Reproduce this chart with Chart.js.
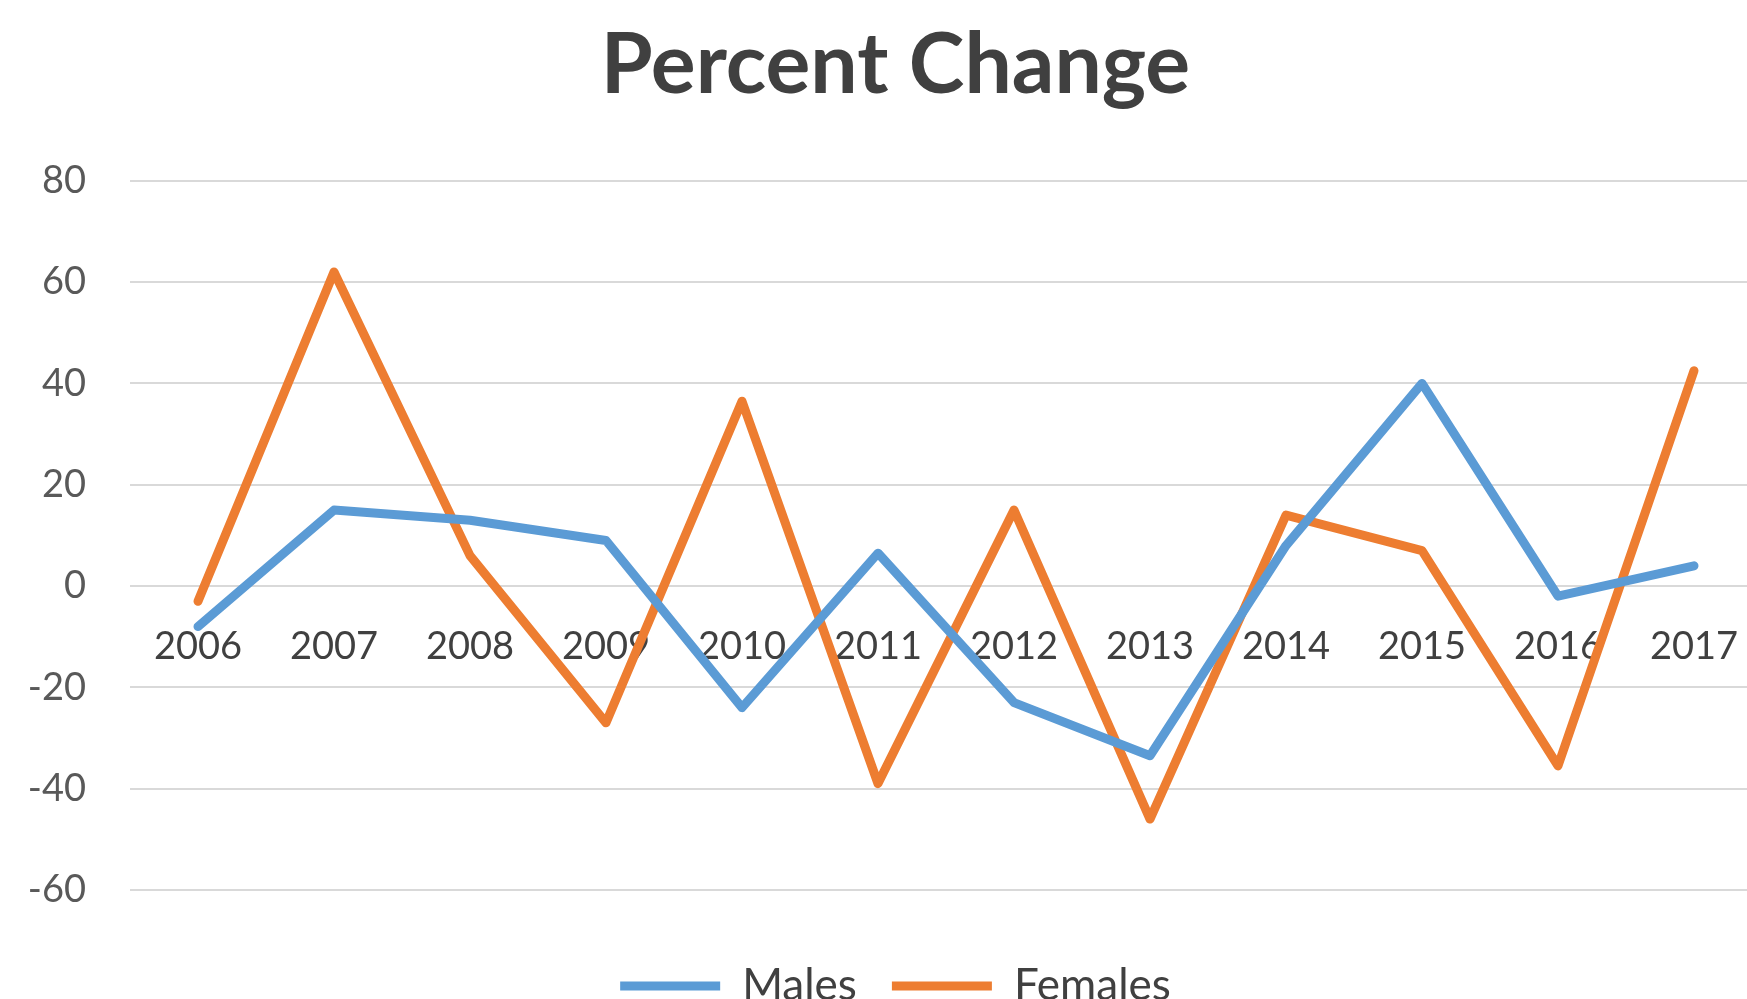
<!DOCTYPE html>
<html>
<head>
<meta charset="utf-8">
<script src="https://cdn.jsdelivr.net/npm/chart.js@4/dist/chart.umd.min.js"></script>
<style>
  html, body { margin: 0; padding: 0; background: #ffffff; overflow: hidden; }
  #wrap { width: 1790px; height: 1018px; }
</style>
</head>
<body>
<div id="wrap"><canvas id="c" width="1790" height="1018"></canvas></div>
<script>
const years = ['2006','2007','2008','2009','2010','2011','2012','2013','2014','2015','2016','2017'];
const males = [-8, 15, 13, 9, -24, 6.5, -23, -33.5, 8, 40, -2, 4];
const females = [-3, 62, 6, -27, 36.5, -39, 15, -46, 14, 7, -35.5, 42.5];
const yTicks = [-60, -40, -20, 0, 20, 40, 60, 80];

const FONT = 'Lato, "Open Sans", sans-serif';

new Chart(document.getElementById('c'), {
  type: 'line',
  data: {
    labels: years,
    datasets: [
      { label: 'Males', data: males, borderColor: '#5B9BD5', backgroundColor: '#5B9BD5',
        borderWidth: 9, pointRadius: 0, tension: 0, borderJoinStyle: 'round', borderCapStyle: 'round' },
      { label: 'Females', data: females, borderColor: '#ED7D31', backgroundColor: '#ED7D31',
        borderWidth: 9, pointRadius: 0, tension: 0, borderJoinStyle: 'round', borderCapStyle: 'round' }
    ]
  },
  options: {
    responsive: false,
    devicePixelRatio: 1,
    animation: false,
    layout: { padding: { left: 29, right: 28, top: 0, bottom: 0 } },
    plugins: {
      title: {
        display: true, text: 'Percent Change', color: '#404040',
        font: { family: FONT, size: 84, weight: 'bold' },
        padding: { top: 16, bottom: 64 }
      },
      legend: {
        position: 'bottom',
        title: { display: true, text: ' ', font: { size: 10 }, padding: 13.5 },
        labels: {
          usePointStyle: true, pointStyle: 'line', pointStyleWidth: 100,
          color: '#404040', font: { family: FONT, size: 44 }, padding: 35
        }
      },
      tooltip: { enabled: false }
    },
    scales: {
      x: {
        type: 'category',
        position: { y: 0 },
        offset: true,
        afterFit: (s) => { s.paddingLeft = 0; s.paddingRight = 0; },
        grid: { display: false, drawTicks: false },
        border: { display: false },
        ticks: { color: '#404040', font: { family: FONT, size: 38 }, padding: 38, maxRotation: 0, autoSkip: false }
      },
      y: {
        min: yTicks[0], max: yTicks[yTicks.length - 1],
        afterBuildTicks: (s) => { s.ticks = yTicks.map(v => ({ value: v })); },
        afterFit: (s) => { s.width = 101; },
        grid: { color: '#d9d9d9', lineWidth: 2, drawTicks: false },
        border: { display: false },
        ticks: { color: '#595959', font: { family: FONT, size: 38 }, padding: 44 }
      }
    }
  }
});
</script>
</body>
</html>
